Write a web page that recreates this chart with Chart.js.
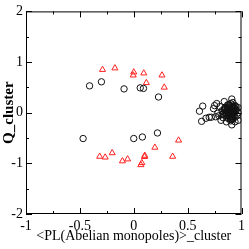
<!DOCTYPE html>
<html>
<head>
<meta charset="utf-8">
<script src="https://cdn.jsdelivr.net/npm/chart.js@4/dist/chart.umd.min.js"></script>
<style>
  html, body { margin: 0; padding: 0; background: #fff; }
  #wrap { width: 249px; height: 249px; }
</style>
</head>
<body>
<div id="wrap"><canvas id="c" width="249" height="249"></canvas></div>
<script>
// circles: black open
const circleX = [-0.41, -0.30, -0.09, 0.06, 0.09, 0.23,
  -0.47, 0.00, 0.08, 0.22,
  0.61, 0.64, 0.63, 0.67, 0.72, 0.75, 0.74, 0.77, 0.79, 0.81, 0.82, 0.84, 0.85, 0.87, 0.88, 0.90, 0.91, 0.91, 0.92, 0.94, 0.95, 0.97, 0.97, 0.97,
  0.78, 0.80, 0.83, 0.84, 0.86, 0.87, 0.88, 0.89, 0.89, 0.90, 0.90, 0.91, 0.92, 0.92, 0.93, 0.93, 0.94, 0.94, 0.95, 0.86, 0.88, 0.90, 0.92, 0.85, 0.89, 0.93, 0.91, 0.87, 0.83, 0.76, 0.70,
  0.86, 0.87, 0.88, 0.89, 0.90, 0.91, 0.92, 0.93, 0.88, 0.90, 0.91, 0.89, 0.92, 0.87, 0.90, 0.93, 0.86, 0.94, 0.91, 0.89, 0.84, 0.82, 0.96, 0.95, 0.88, 0.90];
const circleY = [0.53, 0.61, 0.47, 0.49, 0.48, 0.31,
  -0.51, -0.51, -0.48, -0.40,
  0.03, 0.13, -0.17, -0.11, -0.09, 0.14, 0.08, 0.18, -0.06, -0.15, 0.04, 0.22, 0.00, 0.10, -0.12, 0.13, 0.27, -0.24, 0.00, -0.09, 0.07, 0.00, -0.15, 0.10,
  -0.01, 0.12, -0.10, 0.06, -0.05, 0.15, 0.03, -0.08, 0.08, -0.02, 0.18, 0.05, -0.12, 0.11, 0.02, -0.05, 0.14, -0.18, 0.04, -0.18, -0.03, -0.13, 0.20, 0.09, 0.00, 0.08, -0.07, 0.02, -0.02, -0.08, -0.09,
  0.04, -0.09, 0.10, -0.04, 0.06, -0.10, 0.03, 0.12, -0.06, 0.01, 0.09, 0.14, -0.03, 0.07, -0.08, -0.01, 0.00, 0.05, -0.14, 0.02, 0.08, -0.04, -0.06, 0.12, 0.16, -0.16];

// triangles: red open
const triX = [-0.29, -0.175, 0.00, -0.005, 0.093, 0.117, 0.262, 0.283,
  -0.316, -0.265, -0.20, -0.105, -0.057, 0.075, 0.066, 0.10, 0.102, 0.196, 0.361, 0.416];
const triY = [0.85, 0.88, 0.80, 0.74, 0.78, 0.59, 0.74, 0.50,
  -0.865, -0.88, -0.795, -0.955, -0.917, -0.99, -1.03, -0.87, -0.846, -0.686, -0.865, -0.545];

const xTicks = [-1, -0.5, 0, 0.5, 1];
const yTicks = [-2, -1, 0, 1, 2];

const toPts = (xs, ys) => xs.map((x, i) => ({ x: x, y: ys[i] }));

// inward ticks on all four sides, grace-style
const frameTicks = {
  id: "frameTicks",
  afterDraw(chart) {
    const { ctx, chartArea: a, scales } = chart;
    const xs = scales.x, ys = scales.y;
    ctx.save();
    ctx.strokeStyle = "#000";
    ctx.lineWidth = 1;
    ctx.strokeRect(a.left + 0.5, a.top + 0.5, a.right - a.left - 1, a.bottom - a.top - 1);
    ctx.beginPath();
    for (let v = -1; v <= 1.0001; v += 0.25) {
      const px = Math.round(xs.getPixelForValue(v)) + 0.5;
      const len = Math.abs(v * 2 - Math.round(v * 2)) < 1e-6 ? 6 : 3;
      ctx.moveTo(px, a.bottom); ctx.lineTo(px, a.bottom - len);
      ctx.moveTo(px, a.top); ctx.lineTo(px, a.top + len);
    }
    for (let v = -2; v <= 2.0001; v += 0.5) {
      const py = Math.round(ys.getPixelForValue(v)) + 0.5;
      const len = Math.abs(v - Math.round(v)) < 1e-6 ? 6 : 3;
      ctx.moveTo(a.left, py); ctx.lineTo(a.left + len, py);
      ctx.moveTo(a.right, py); ctx.lineTo(a.right - len, py);
    }
    ctx.stroke();
    ctx.restore();
  }
};

new Chart(document.getElementById("c"), {
  type: "scatter",
  data: {
    datasets: [
      { data: toPts(circleX, circleY), pointStyle: "circle", pointRadius: 3.2, borderColor: "#111", backgroundColor: "rgba(0,0,0,0)", borderWidth: 1 },
      { data: toPts(triX, triY), pointStyle: "triangle", pointRadius: 3.5, borderColor: "#ff2020", backgroundColor: "rgba(0,0,0,0)", borderWidth: 1 },
    ],
  },
  options: {
    responsive: false,
    animation: false,
    layout: { padding: { top: 6, right: 4, left: 0, bottom: 0 } },
    plugins: { legend: { display: false }, tooltip: { enabled: false } },
    scales: {
      x: {
        type: "linear", min: -1, max: 1,
        afterFit: s => { s.height = 35; },
        afterBuildTicks: s => { s.ticks = xTicks.map(v => ({ value: v })); },
        grid: { display: false, drawTicks: false },
        border: { display: false },
        ticks: { color: "#000", padding: 4, maxRotation: 0, font: { family: "Liberation Serif", size: 14 }, callback: v => String(v) },
        title: { display: true, text: "<PL(Abelian monopoles)>_cluster", color: "#000", padding: { top: 0, bottom: 4 }, font: { family: "Liberation Serif", size: 14 } },
      },
      y: {
        type: "linear", min: -2, max: 2,
        afterFit: s => { s.width = 26; },
        afterBuildTicks: s => { s.ticks = yTicks.map(v => ({ value: v })); },
        grid: { display: false, drawTicks: false },
        border: { display: false },
        ticks: { color: "#000", padding: 3, font: { family: "Liberation Serif", size: 14 }, callback: v => String(v) },
        title: { display: true, text: "Q_cluster", color: "#000", padding: 0, font: { family: "Liberation Serif", size: 15, weight: "bold" } },
      },
    },
  },
  plugins: [frameTicks],
});
</script>
</body>
</html>
